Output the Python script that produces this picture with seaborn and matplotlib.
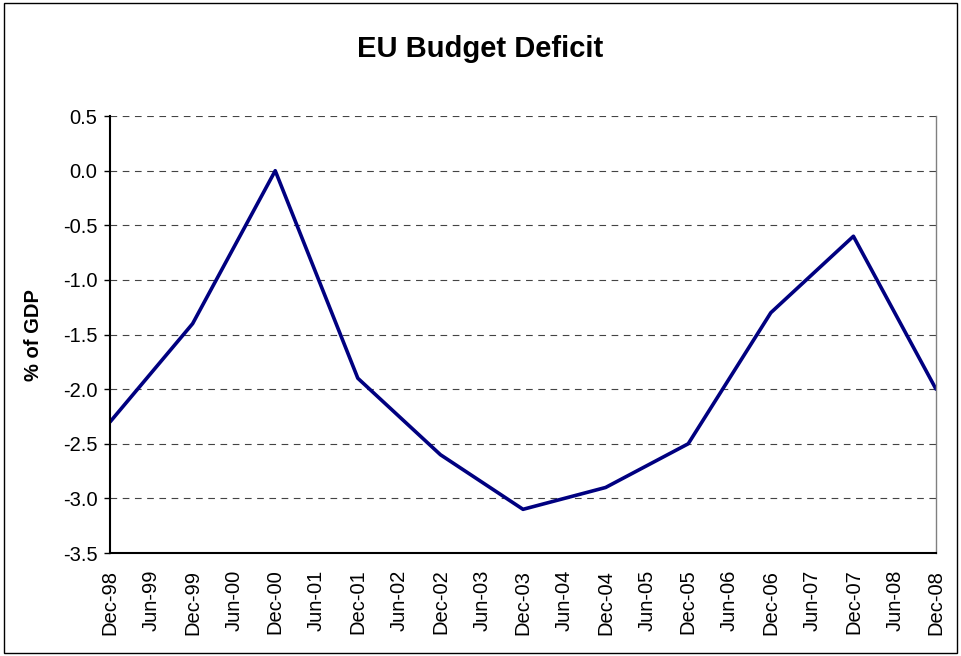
import matplotlib
matplotlib.use("Agg")
import matplotlib.pyplot as plt
import seaborn as sns
import pandas as pd
from matplotlib.patches import Rectangle

# half-year tick labels along the x axis
tick_labels = ["Dec-98", "Jun-99", "Dec-99", "Jun-00", "Dec-00", "Jun-01", "Dec-01",
               "Jun-02", "Dec-02", "Jun-03", "Dec-03", "Jun-04", "Dec-04", "Jun-05",
               "Dec-05", "Jun-06", "Dec-06", "Jun-07", "Dec-07", "Jun-08", "Dec-08"]

# yearly observations (December of each year)
periods = ["Dec-98", "Dec-99", "Dec-00", "Dec-01", "Dec-02", "Dec-03",
           "Dec-04", "Dec-05", "Dec-06", "Dec-07", "Dec-08"]
deficit = [-2.3, -1.4, 0.0, -1.9, -2.6, -3.1, -2.9, -2.5, -1.3, -0.6, -2.0]

df = pd.DataFrame({"period": periods, "deficit": deficit})
df["pos"] = df["period"].map({lab: i for i, lab in enumerate(tick_labels)})

sns.set_style("white")
plt.rcParams["font.family"] = ["Liberation Sans", "DejaVu Sans"]
plt.rcParams["text.color"] = "black"
plt.rcParams["xtick.color"] = "black"
plt.rcParams["ytick.color"] = "black"
plt.rcParams["axes.labelcolor"] = "black"

fig = plt.figure(figsize=(9.61, 6.56), dpi=100)
ax = fig.add_axes([0.1145, 0.157, 0.8595, 0.666])

sns.lineplot(data=df, x="pos", y="deficit", ax=ax, color="#000080", linewidth=2.6)

ax.set_xlim(0, len(tick_labels) - 1)
ax.set_ylim(-3.5, 0.5)
ax.set_xticks(range(len(tick_labels)))
ax.set_xticklabels(tick_labels, rotation=90, fontsize=14.5)
ax.set_yticks([0.5, 0.0, -0.5, -1.0, -1.5, -2.0, -2.5, -3.0, -3.5])
ax.set_yticklabels([f"{v:.1f}" for v in ax.get_yticks()], fontsize=14.5)
ax.tick_params(axis="y", length=4, width=1, direction="out", left=True, pad=5)
ax.tick_params(axis="x", length=0, pad=12)

ax.grid(axis="y", linestyle=(0, (6, 5)), color="#444444", linewidth=0.8)
ax.set_axisbelow(True)
ax.set_xlabel("")
ax.set_ylabel("% of GDP", fontsize=14.5, fontweight="bold", labelpad=14)

for side in ["left", "bottom"]:
    ax.spines[side].set_color("black")
    ax.spines[side].set_linewidth(1.5)
ax.spines["right"].set_color("#808080")
ax.spines["right"].set_linewidth(1)
ax.spines["top"].set_visible(False)

fig.text(0.5, 0.926, "EU Budget Deficit", ha="center", va="center",
         fontsize=21, fontweight="bold")

# outer chart border
fig.patches.append(Rectangle((0.004, 0.005), 0.992, 0.99, transform=fig.transFigure,
                             fill=False, edgecolor="black", linewidth=1))

fig.savefig("out.png", dpi=100)
